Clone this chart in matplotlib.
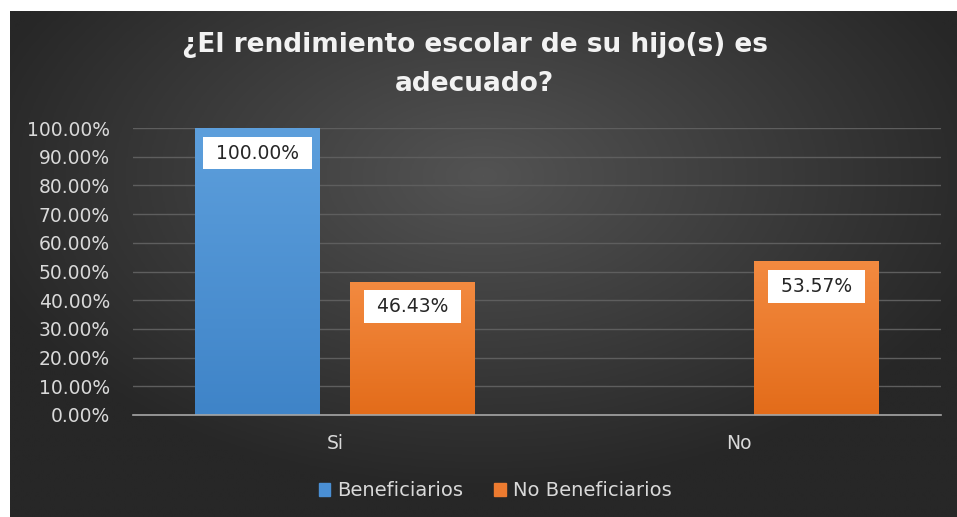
import numpy as np
import matplotlib
matplotlib.use("Agg")
import matplotlib.pyplot as plt
from matplotlib.colors import LinearSegmentedColormap
from matplotlib.patches import Patch

categories = ["Si", "No"]
series_names = ["Beneficiarios", "No Beneficiarios"]
beneficiarios = [100.00, 0.0]
no_beneficiarios = [46.43, 53.57]
yticks = [0, 10, 20, 30, 40, 50, 60, 70, 80, 90, 100]
title = "¿El rendimiento escolar de su hijo(s) es\nadecuado?"

W, H = 957, 517
fig = plt.figure(figsize=(W / 100, H / 100), dpi=100, facecolor="white")
FONT = "DejaVu Sans"
FS = 13.5

# dark radial gradient background
bg = fig.add_axes([10 / W, 0, (W - 10) / W, (H - 11) / H])
bg.set_axis_off()
yy, xx = np.mgrid[-1:1:300j, -1:1:600j]
r = np.sqrt((xx * 0.9) ** 2 + ((yy + 0.35) * 0.8) ** 2)
r = np.clip(r, 0, 1)
cmap_bg = LinearSegmentedColormap.from_list("bg", ["#535353", "#3d3d3d", "#272727"])
bg.imshow(r, cmap=cmap_bg, aspect="auto", extent=[0, 1, 0, 1], interpolation="bilinear")
bg.set_xlim(0, 1)
bg.set_ylim(0, 1)

ax = fig.add_axes([133 / W, 102 / H, (941 - 133) / W, 287 / H])
ax.set_facecolor("none")
x = np.arange(len(categories))
width = 0.308
off = 0.192
colors = ["#4a8fd4", "#ed7b30"]
grads = [("#5d9fdc", "#3f84c8"), ("#f38a40", "#e36c1a")]

for i, (vals, name) in enumerate(zip([beneficiarios, no_beneficiarios], series_names)):
    pos = x + (-off if i == 0 else off)
    bars = ax.bar(pos, vals, width, color=colors[i], label=name, zorder=3)
    cm = LinearSegmentedColormap.from_list("g%d" % i, [grads[i][1], grads[i][0]])
    for b, v in zip(bars, vals):
        if v <= 0:
            b.set_visible(False)
            continue
        grad = np.linspace(0, 1, 100).reshape(-1, 1)
        im = ax.imshow(grad, cmap=cm, aspect="auto", origin="lower",
                       extent=[b.get_x(), b.get_x() + b.get_width(), 0, v], zorder=4)
        im.set_clip_path(b)
        ax.annotate(f" {v:.2f}% ", xy=(b.get_x() + b.get_width() / 2, v),
                    xytext=(0, -18), textcoords="offset points", ha="center", va="center",
                    fontsize=FS, family=FONT, color="#262626", zorder=6,
                    bbox=dict(boxstyle="square,pad=0.36", fc="white", ec="none"))

ax.set_xlim(-0.5, 1.5)
ax.set_ylim(0, 100)
ax.set_yticks(yticks)
ax.set_yticklabels([f"{t:.2f}%" for t in yticks], fontsize=FS, family=FONT, color="#d9d9d9")
ax.set_xticks(x)
ax.set_xticklabels(categories, fontsize=FS, family=FONT, color="#d9d9d9")
ax.tick_params(axis="both", length=0)
ax.tick_params(axis="y", pad=16.5)
ax.tick_params(axis="x", pad=14)
ax.grid(axis="y", color="#5e5e5e", linewidth=1, zorder=0)
for s in ["top", "right", "left"]:
    ax.spines[s].set_visible(False)
ax.spines["bottom"].set_color("#a6a6a6")
ax.spines["bottom"].set_linewidth(1.2)
ax.spines["bottom"].set_zorder(5)
ax.set_xlim(-0.5, 1.5)
ax.set_ylim(0, 100)

fig.text(475 / W, 1 - 64.5 / H, title, ha="center", va="center", fontsize=19,
         family=FONT, fontweight="bold", color="#f2f2f2", linespacing=1.68)

handles = [Patch(color=colors[0]), Patch(color=colors[1])]
leg = fig.legend(handles, series_names, loc="center", bbox_to_anchor=(495 / W, 1 - 491 / H),
                 ncol=2, frameon=False, handlelength=0.6, handleheight=0.6,
                 handletextpad=0.35, columnspacing=1.6, prop={"family": FONT, "size": 14})
for t in leg.get_texts():
    t.set_color("#d9d9d9")

fig.savefig("out.png", dpi=100, facecolor="white")
